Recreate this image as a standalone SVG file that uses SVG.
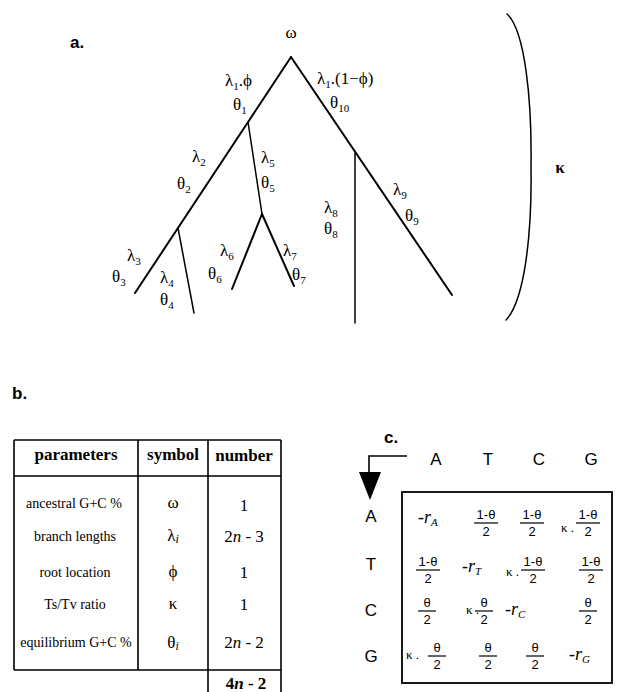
<svg xmlns="http://www.w3.org/2000/svg" width="626" height="692" viewBox="0 0 626 692">
<style>
.bg{fill:#fff}
.br{fill:none;stroke:#000;stroke-width:2;stroke-linecap:round}
.brt{fill:none;stroke:#000;stroke-width:1.5;stroke-linecap:round}
.ln{fill:none;stroke:#000;stroke-width:1.6}
.tl{font-family:"Liberation Serif","DejaVu Serif","Times New Roman",serif;font-size:17px;fill:#000}
.sub{font-size:11px}
.pl{font-family:"Liberation Sans",Arial,sans-serif;font-size:17px;font-weight:bold;fill:#000}
.th{font-family:"Liberation Serif","Times New Roman",serif;font-size:17px;font-weight:bold;fill:#000;text-anchor:middle}
.td{font-family:"Liberation Serif","Times New Roman",serif;font-size:14px;fill:#000;text-anchor:middle}
.ts{font-family:"Liberation Serif","DejaVu Serif","Times New Roman",serif;font-size:17px;fill:#000;text-anchor:middle}
.mh{font-family:"Liberation Sans",Arial,sans-serif;font-size:17px;fill:#000;text-anchor:middle}
.fr{font-family:"Liberation Sans",Arial,sans-serif;font-size:13px;fill:#000;text-anchor:middle}
.fb{stroke:#000;stroke-width:1.2}
.rr{font-family:"Liberation Serif","Times New Roman",serif;font-size:18px;font-style:italic;fill:#000}
.kk{font-family:"Liberation Serif","Times New Roman",serif;font-size:13px;fill:#000}
</style>
<defs>
<g id="frac1t"><text class="fr" x="0" y="0">1-θ</text><line class="fb" x1="-12" y1="4" x2="12" y2="4"/><text class="fr" x="0" y="17">2</text></g>
<g id="fract"><text class="fr" x="0" y="0">θ</text><line class="fb" x1="-9" y1="4" x2="9" y2="4"/><text class="fr" x="0" y="17">2</text></g>
</defs>
<rect class="bg" x="0" y="0" width="626" height="692"/>

<!-- panel labels -->
<text class="pl" x="70" y="48">a.</text>
<text class="pl" x="12" y="399">b.</text>
<text class="pl" x="384" y="443">c.</text>

<!-- panel a: tree connectors -->
<g id="tree-connectors">
<path class="br" d="M291,57 L135,293"/>
<path class="br" d="M291,57 L452,295"/>
<path class="brt" d="M248,122 L262,214"/>
<path class="br" d="M262,214 L232,289"/>
<path class="br" d="M262,214 L294,286"/>
<path class="brt" d="M178,228 L194,313"/>
<path class="brt" d="M355,153 L355,323"/>
<path class="brt" d="M507,14 C525,30 532,100 531,167 C532,232 525,300 506,320"/>
</g>

<g id="tree-labels">
<g id="root"><text class="tl" x="291" y="38" text-anchor="middle" font-size="15">ω</text></g>
<g id="b1"><text class="tl" x="225" y="86">λ<tspan class="sub" dy="4">1</tspan><tspan dy="-4">.ϕ</tspan></text>
<text class="tl" x="233" y="110">θ<tspan class="sub" dy="4">1</tspan></text></g>
<g id="b10"><text class="tl" x="317" y="84">λ<tspan class="sub" dy="4">1</tspan><tspan dy="-4">.(1−ϕ)</tspan></text>
<text class="tl" x="330" y="108">θ<tspan class="sub" dy="4">10</tspan></text></g>
<g id="b2"><text class="tl" x="192" y="162">λ<tspan class="sub" dy="4">2</tspan></text>
<text class="tl" x="177" y="189">θ<tspan class="sub" dy="4">2</tspan></text></g>
<g id="b5"><text class="tl" x="261" y="163">λ<tspan class="sub" dy="4">5</tspan></text>
<text class="tl" x="261" y="188">θ<tspan class="sub" dy="4">5</tspan></text></g>
<g id="b8"><text class="tl" x="324" y="213">λ<tspan class="sub" dy="4">8</tspan></text>
<text class="tl" x="324" y="234">θ<tspan class="sub" dy="4">8</tspan></text></g>
<g id="b9"><text class="tl" x="393" y="195">λ<tspan class="sub" dy="4">9</tspan></text>
<text class="tl" x="405" y="221">θ<tspan class="sub" dy="4">9</tspan></text></g>
<g id="b3"><text class="tl" x="127" y="261">λ<tspan class="sub" dy="4">3</tspan></text>
<text class="tl" x="112" y="282">θ<tspan class="sub" dy="4">3</tspan></text></g>
<g id="b4"><text class="tl" x="160" y="283">λ<tspan class="sub" dy="4">4</tspan></text>
<text class="tl" x="160" y="305">θ<tspan class="sub" dy="4">4</tspan></text></g>
<g id="b6"><text class="tl" x="220" y="256">λ<tspan class="sub" dy="4">6</tspan></text>
<text class="tl" x="208" y="279">θ<tspan class="sub" dy="4">6</tspan></text></g>
<g id="b7"><text class="tl" x="283" y="256">λ<tspan class="sub" dy="4">7</tspan></text>
<text class="tl" x="292" y="280">θ<tspan class="sub" dy="4">7</tspan></text></g>
<g id="kappa"><text class="tl" x="560" y="173" text-anchor="middle" font-weight="bold" font-size="18">κ</text></g>
</g>

<!-- panel b: table -->
<g id="table">
<g id="table-lines">
<path class="ln" d="M14,440 H281 M14,476 H281 M14,440 V670 M138,440 V670 M208,440 V692 M281,440 V692 M14,670 H281"/>
</g>
<text class="th" x="76" y="460">parameters</text>
<text class="th" x="173" y="460">symbol</text>
<text class="th" x="244" y="461">number</text>

<text class="td" x="74" y="508">ancestral G+C %</text>
<text class="td" x="75" y="541">branch lengths</text>
<text class="td" x="75" y="577">root location</text>
<text class="td" x="75" y="609">Ts/Tv ratio</text>
<text class="td" x="76" y="647">equilibrium G+C %</text>

<text class="ts" x="173" y="508">ω</text>
<text class="ts" x="173" y="541">λ<tspan font-size="12" font-style="italic" dy="2">i</tspan></text>
<text class="ts" x="173" y="577">ϕ</text>
<text class="ts" x="173" y="609" font-size="15">κ</text>
<text class="ts" x="173" y="648">θ<tspan font-size="12" font-style="italic" dy="2">i</tspan></text>

<text class="ts" x="244" y="511">1</text>
<text class="ts" x="244" y="542">2<tspan font-style="italic">n</tspan> - 3</text>
<text class="ts" x="244" y="578">1</text>
<text class="ts" x="244" y="610">1</text>
<text class="ts" x="244" y="648">2<tspan font-style="italic">n</tspan> - 2</text>
<text class="ts" x="246" y="689" font-weight="bold">4<tspan font-style="italic">n</tspan> - 2</text>
</g>

<!-- panel c: matrix -->
<g id="matrix">
<g id="arrow">
<path class="ln" d="M407,456 H369 V473"/>
<polygon points="359,472 381,472 370,500" fill="#000"/>
</g>
<text class="mh" x="436" y="465">A</text>
<text class="mh" x="488" y="465">T</text>
<text class="mh" x="539" y="465">C</text>
<text class="mh" x="591" y="465">G</text>

<text class="mh" x="371" y="522">A</text>
<text class="mh" x="371" y="570">T</text>
<text class="mh" x="371" y="616">C</text>
<text class="mh" x="371" y="662">G</text>

<rect x="402" y="492" width="210" height="191" fill="none" stroke="#000" stroke-width="1.8"/>

<!-- row A -->
<text class="rr" x="418" y="523">-r<tspan font-size="11" dy="3">A</tspan></text>
<use href="#frac1t" x="486" y="519"/>
<use href="#frac1t" x="532" y="519"/>
<text class="kk" x="561" y="532">κ .</text>
<use href="#frac1t" x="588" y="519"/>

<!-- row T -->
<use href="#frac1t" x="428" y="566"/>
<text class="rr" x="462" y="572">-r<tspan font-size="11" dy="3">T</tspan></text>
<text class="kk" x="506" y="576">κ .</text>
<use href="#frac1t" x="533" y="566"/>
<use href="#frac1t" x="591" y="566"/>

<!-- row C -->
<use href="#fract" x="427" y="607"/>
<text class="kk" x="466" y="614">κ .</text>
<use href="#fract" x="484" y="607"/>
<text class="rr" x="505" y="615">-r<tspan font-size="11" dy="3">C</tspan></text>
<use href="#fract" x="588" y="607"/>

<!-- row G -->
<text class="kk" x="406" y="659">κ .</text>
<use href="#fract" x="437" y="652"/>
<use href="#fract" x="488" y="652"/>
<use href="#fract" x="535" y="652"/>
<text class="rr" x="569" y="660">-r<tspan font-size="11" dy="3">G</tspan></text>
</g>
</svg>
